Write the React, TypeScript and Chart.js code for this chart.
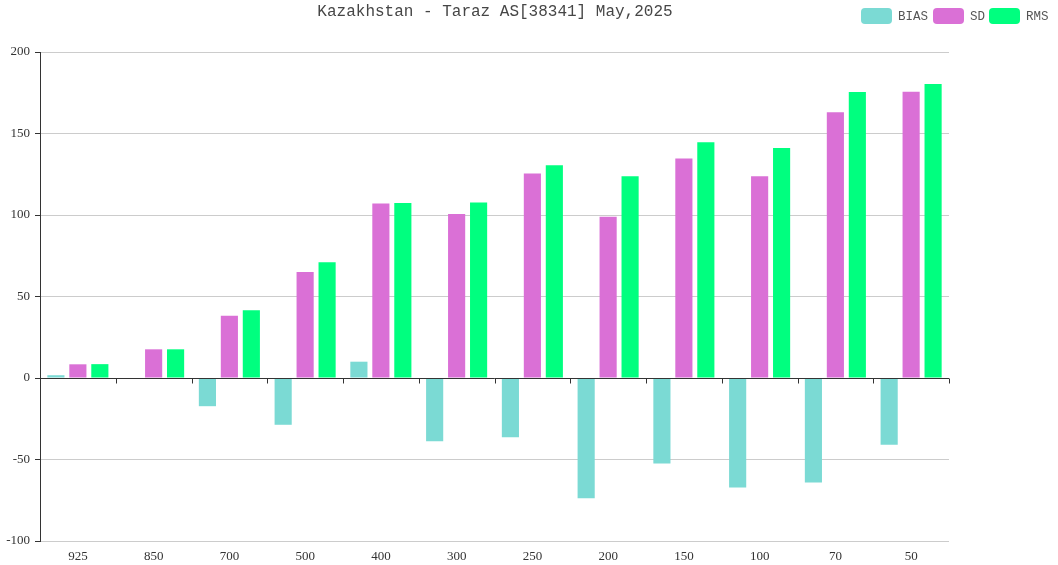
import React, { useEffect, useRef } from "react";
import { Chart, registerables } from "chart.js";

Chart.register(...registerables);

const TITLE = "Kazakhstan - Taraz AS[38341] May,2025";
const categories = ["925", "850", "700", "500", "400", "300", "250", "200", "150", "100", "70", "50"];
const biasValues = [1.7, 0.3, -17.3, -28.7, 10.0, -38.8, -36.3, -73.8, -52.5, -67.2, -64.1, -41.0];
const sdValues = [8.4, 17.6, 38.2, 65.0, 107.0, 100.6, 125.4, 98.9, 134.6, 123.7, 163.1, 175.6];
const rmsValues = [8.5, 17.6, 41.6, 71.0, 107.4, 107.7, 130.5, 123.8, 144.6, 141.1, 175.4, 180.4];
const seriesNames = ["BIAS", "SD", "RMS"];
const seriesColors = ["#7bdad4", "#da70d6", "#00ff7f"];

const overlayPlugin = {
  id: "overlay",
  afterDatasetsDraw(chart: any) {
    const ctx = chart.ctx;
    const area = chart.chartArea;
    const yScale = chart.scales.y;
    const y0 = Math.round(yScale.getPixelForValue(0)) + 0.5;
    ctx.save();
    ctx.strokeStyle = "#333";
    ctx.lineWidth = 1;
    ctx.beginPath();
    ctx.moveTo(area.left, y0);
    ctx.lineTo(area.right, y0);
    const n = categories.length;
    const w = (area.right - area.left) / n;
    for (let i = 0; i <= n; i++) {
      const x = Math.round(area.left + i * w) + 0.5;
      ctx.moveTo(x, y0);
      ctx.lineTo(x, y0 + 5);
    }
    ctx.stroke();
    ctx.restore();
  },
  afterDraw(chart: any) {
    const ctx = chart.ctx;
    ctx.save();
    ctx.fillStyle = "#464646";
    ctx.font = "16px 'Liberation Mono', monospace";
    ctx.textAlign = "center";
    ctx.textBaseline = "middle";
    ctx.fillText(TITLE, 495, 12);
    // legend
    const rectX = [861, 933, 989];
    ctx.font = "12.5px 'Liberation Mono', monospace";
    ctx.textAlign = "left";
    for (let i = 0; i < 3; i++) {
      ctx.fillStyle = seriesColors[i];
      const x = rectX[i];
      const y = 8, w = 31, h = 16, r = 4;
      ctx.beginPath();
      ctx.moveTo(x + r, y);
      ctx.lineTo(x + w - r, y);
      ctx.quadraticCurveTo(x + w, y, x + w, y + r);
      ctx.lineTo(x + w, y + h - r);
      ctx.quadraticCurveTo(x + w, y + h, x + w - r, y + h);
      ctx.lineTo(x + r, y + h);
      ctx.quadraticCurveTo(x, y + h, x, y + h - r);
      ctx.lineTo(x, y + r);
      ctx.quadraticCurveTo(x, y, x + r, y);
      ctx.fill();
      ctx.fillStyle = "#555";
      ctx.fillText(seriesNames[i], x + 37, 16.5);
    }
    ctx.restore();
  },
};

export default function App() {
  const ref = useRef<HTMLCanvasElement | null>(null);
  useEffect(() => {
    if (!ref.current) return;
    const valuesList = [biasValues, sdValues, rmsValues];
    const chart = new Chart(ref.current, {
      type: "bar",
      data: {
        labels: categories,
        datasets: seriesNames.map((name, i) => ({
          label: name,
          data: valuesList[i],
          backgroundColor: seriesColors[i],
          categoryPercentage: 0.87,
          barPercentage: 0.78,
        })),
      },
      options: {
        animation: false,
        responsive: false,
        maintainAspectRatio: false,
        layout: { padding: { top: 52, right: 109, left: 0, bottom: 0 } },
        plugins: {
          legend: { display: false },
          title: { display: false },
          tooltip: { enabled: false },
        },
        scales: {
          x: {
            grid: { display: false, drawTicks: false },
            border: { display: false },
            ticks: {
              color: "#333",
              font: { family: "'Liberation Serif', serif", size: 13 },
              padding: 8,
              maxRotation: 0,
            },
            afterFit(scale: any) {
              scale.height = 24;
            },
          },
          y: {
            min: -100,
            max: 200,
            ticks: {
              stepSize: 50,
              color: "#333",
              font: { family: "'Liberation Serif', serif", size: 13 },
              padding: 5,
            },
            grid: { color: "#cccccc", tickColor: "#333", tickLength: 5 },
            border: { color: "#333", width: 1 },
            afterFit(scale: any) {
              scale.width = 40;
            },
          },
        },
      },
      plugins: [overlayPlugin],
    });
    return () => chart.destroy();
  }, []);
  return (
    <div style={{ position: "fixed", left: 0, top: 0, width: 1058, height: 565, background: "#fff" }}>
      <canvas ref={ref} width={1058} height={565} style={{ width: 1058, height: 565, display: "block" }} />
    </div>
  );
}
